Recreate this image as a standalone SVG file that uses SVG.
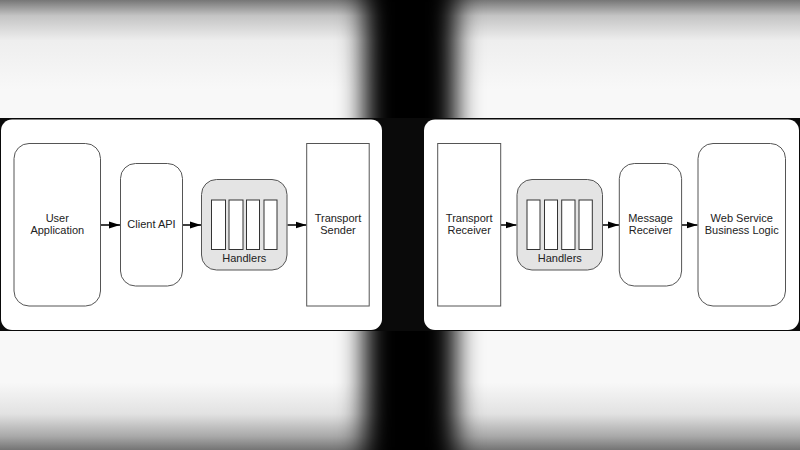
<svg xmlns="http://www.w3.org/2000/svg" width="800" height="450" viewBox="0 0 800 450">
<defs>
<linearGradient id="bgv" x1="0" y1="0" x2="0" y2="450" gradientUnits="userSpaceOnUse">
<stop offset="0" stop-color="#767676"/>
<stop offset="0.035" stop-color="#c4c4c4"/>
<stop offset="0.09" stop-color="#eeeeee"/>
<stop offset="0.2" stop-color="#f8f8f8"/>
<stop offset="0.85" stop-color="#f8f8f8"/>
<stop offset="0.92" stop-color="#e2e2e2"/>
<stop offset="0.97" stop-color="#a8a8a8"/>
<stop offset="1" stop-color="#747474"/>
</linearGradient>
<filter id="blur" x="-1" y="-1" width="3" height="3">
<feGaussianBlur stdDeviation="13"/>
</filter>
<marker id="ah" viewBox="0 0 11 8" refX="11" refY="4" markerWidth="11" markerHeight="8" markerUnits="userSpaceOnUse" orient="auto">
<path d="M0,0.5 L11,4 L0,7.5 Z" fill="#000"/>
</marker>
<style>
.node{fill:#fff;stroke:#555;stroke-width:1}
.hbox{fill:#e4e4e4;stroke:#555;stroke-width:1}
.slot{fill:#fff;stroke:#333;stroke-width:1}
.panel{fill:#fff}
.lbl{font-family:"Liberation Sans",Arial,sans-serif;font-size:11px;fill:#222;text-anchor:middle}
.conn{stroke:#000;stroke-width:1.5;fill:none;marker-end:url(#ah)}
</style>
</defs>
<g id="background">
<rect x="0" y="0" width="800" height="450" fill="url(#bgv)"/>
<rect x="364" y="-60" width="92" height="570" fill="#000" filter="url(#blur)"/>
</g>
<g id="frame">
<rect x="0" y="118" width="800" height="213" fill="#0a0a0a"/>
<rect class="panel" x="1" y="119.5" width="381" height="210.5" rx="11"/>
<rect class="panel" x="424" y="119.5" width="375" height="210.5" rx="11"/>
</g>
<g id="connectors">
<line class="conn" x1="101" y1="225" x2="120" y2="225"/>
<line class="conn" x1="183" y1="225" x2="201" y2="225"/>
<line class="conn" x1="287.5" y1="225" x2="306.5" y2="225"/>
<line class="conn" x1="501" y1="225" x2="516.5" y2="225"/>
<line class="conn" x1="603" y1="225" x2="619" y2="225"/>
<line class="conn" x1="682" y1="225" x2="697.5" y2="225"/>
</g>
<g id="user-application">
<rect class="node" x="14" y="143.5" width="86.5" height="162.5" rx="15"/>
<text class="lbl" x="57.3" y="221.5">User</text>
<text class="lbl" x="57.3" y="234">Application</text>
</g>
<g id="client-api">
<rect class="node" x="120.5" y="163.5" width="62" height="122.5" rx="15"/>
<text class="lbl" x="151.5" y="228.3">Client API</text>
</g>
<g id="handlers-client">
<rect class="hbox" x="201.5" y="179.5" width="85.5" height="90.5" rx="15"/>
<rect class="slot" x="211.5" y="200" width="14" height="49.5"/>
<rect class="slot" x="229" y="200" width="14" height="49.5"/>
<rect class="slot" x="246.5" y="200" width="13" height="49.5"/>
<rect class="slot" x="264" y="200" width="13" height="49.5"/>
<text class="lbl" x="244.3" y="262.3">Handlers</text>
</g>
<g id="transport-sender">
<rect class="node" x="306.7" y="143.5" width="62.5" height="162.5"/>
<text class="lbl" x="338" y="221.5">Transport</text>
<text class="lbl" x="338" y="234">Sender</text>
</g>
<g id="transport-receiver">
<rect class="node" x="437.7" y="143.5" width="63" height="162.5"/>
<text class="lbl" x="469.2" y="221.5">Transport</text>
<text class="lbl" x="469.2" y="234">Receiver</text>
</g>
<g id="handlers-service">
<rect class="hbox" x="517" y="179.5" width="85.5" height="90.5" rx="15"/>
<rect class="slot" x="527" y="200" width="13" height="49.5"/>
<rect class="slot" x="544.5" y="200" width="13" height="49.5"/>
<rect class="slot" x="561.7" y="200" width="13.3" height="49.5"/>
<rect class="slot" x="579" y="200" width="13.3" height="49.5"/>
<text class="lbl" x="559.8" y="262.3">Handlers</text>
</g>
<g id="message-receiver">
<rect class="node" x="619.3" y="163.5" width="62.3" height="122.5" rx="15"/>
<text class="lbl" x="650.5" y="221.5">Message</text>
<text class="lbl" x="650.5" y="234">Receiver</text>
</g>
<g id="web-service">
<rect class="node" x="698" y="143.5" width="87.5" height="162.5" rx="15"/>
<text class="lbl" x="741.7" y="221.5">Web Service</text>
<text class="lbl" x="741.7" y="234">Business Logic</text>
</g>
</svg>
